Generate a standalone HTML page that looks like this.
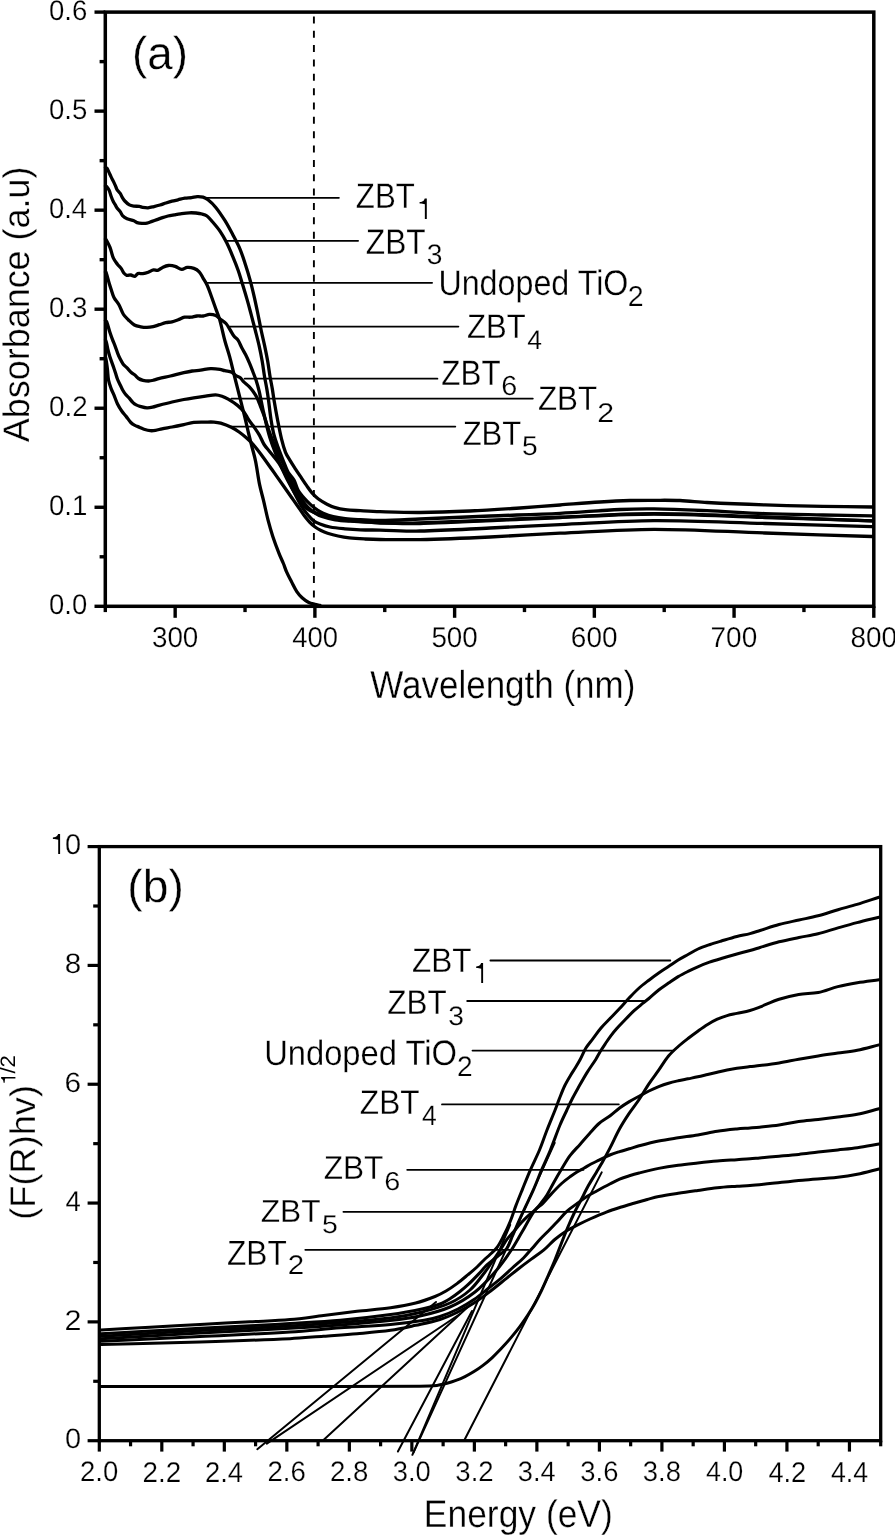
<!DOCTYPE html>
<html><head><meta charset="utf-8"><style>
html,body{margin:0;padding:0;background:#fff;}
svg{display:block;will-change:transform;} text{text-rendering:geometricPrecision;}
text{font-family:"Liberation Sans",sans-serif;fill:#000;stroke:#fff;stroke-width:0.45px;}
</style></head><body>
<svg width="895" height="1535" viewBox="0 0 895 1535" stroke="#000" fill="none">
<rect x="105.3" y="12.1" width="768.50" height="594.20" stroke-width="3.5" stroke-linejoin="miter"/>
<line x1="94.5" y1="606.3" x2="105.3" y2="606.3" stroke-width="3.4" stroke-linecap="butt" />
<line x1="94.5" y1="507.27" x2="105.3" y2="507.27" stroke-width="3.4" stroke-linecap="butt" />
<line x1="94.5" y1="408.23" x2="105.3" y2="408.23" stroke-width="3.4" stroke-linecap="butt" />
<line x1="94.5" y1="309.2" x2="105.3" y2="309.2" stroke-width="3.4" stroke-linecap="butt" />
<line x1="94.5" y1="210.17" x2="105.3" y2="210.17" stroke-width="3.4" stroke-linecap="butt" />
<line x1="94.5" y1="111.13" x2="105.3" y2="111.13" stroke-width="3.4" stroke-linecap="butt" />
<line x1="94.5" y1="12.1" x2="105.3" y2="12.1" stroke-width="3.4" stroke-linecap="butt" />
<line x1="99.6" y1="556.78" x2="105.3" y2="556.78" stroke-width="3.4" stroke-linecap="butt" />
<line x1="99.6" y1="457.75" x2="105.3" y2="457.75" stroke-width="3.4" stroke-linecap="butt" />
<line x1="99.6" y1="358.72" x2="105.3" y2="358.72" stroke-width="3.4" stroke-linecap="butt" />
<line x1="99.6" y1="259.68" x2="105.3" y2="259.68" stroke-width="3.4" stroke-linecap="butt" />
<line x1="99.6" y1="160.65" x2="105.3" y2="160.65" stroke-width="3.4" stroke-linecap="butt" />
<line x1="99.6" y1="61.62" x2="105.3" y2="61.62" stroke-width="3.4" stroke-linecap="butt" />
<line x1="175.16" y1="606.3" x2="175.16" y2="617.8" stroke-width="3.4" stroke-linecap="butt" />
<line x1="314.89" y1="606.3" x2="314.89" y2="617.8" stroke-width="3.4" stroke-linecap="butt" />
<line x1="454.62" y1="606.3" x2="454.62" y2="617.8" stroke-width="3.4" stroke-linecap="butt" />
<line x1="594.35" y1="606.3" x2="594.35" y2="617.8" stroke-width="3.4" stroke-linecap="butt" />
<line x1="734.07" y1="606.3" x2="734.07" y2="617.8" stroke-width="3.4" stroke-linecap="butt" />
<line x1="873.8" y1="606.3" x2="873.8" y2="617.8" stroke-width="3.4" stroke-linecap="butt" />
<line x1="105.3" y1="606.3" x2="105.3" y2="612.1" stroke-width="3.4" stroke-linecap="butt" />
<line x1="245.03" y1="606.3" x2="245.03" y2="612.1" stroke-width="3.4" stroke-linecap="butt" />
<line x1="384.75" y1="606.3" x2="384.75" y2="612.1" stroke-width="3.4" stroke-linecap="butt" />
<line x1="524.48" y1="606.3" x2="524.48" y2="612.1" stroke-width="3.4" stroke-linecap="butt" />
<line x1="664.21" y1="606.3" x2="664.21" y2="612.1" stroke-width="3.4" stroke-linecap="butt" />
<line x1="803.94" y1="606.3" x2="803.94" y2="612.1" stroke-width="3.4" stroke-linecap="butt" />
<line x1="313.9" y1="16.4" x2="313.9" y2="604" stroke-width="1.9" stroke-dasharray="7 7.35"/>
<text transform="translate(49 614.22) scale(0.9697 1)" font-size="28.31" style="stroke-width:0.23px">0.0</text>
<text transform="translate(48.99 515.18) scale(0.9771 1)" font-size="28.31" style="stroke-width:0.23px">0.1</text>
<text transform="translate(48.99 416.15) scale(0.9809 1)" font-size="28.31" style="stroke-width:0.23px">0.2</text>
<text transform="translate(49 317.12) scale(0.9734 1)" font-size="28.31" style="stroke-width:0.23px">0.3</text>
<text transform="translate(49.01 218.08) scale(0.9660 1)" font-size="28.31" style="stroke-width:0.23px">0.4</text>
<text transform="translate(49 119.05) scale(0.9734 1)" font-size="28.31" style="stroke-width:0.23px">0.5</text>
<text transform="translate(49 20.02) scale(0.9734 1)" font-size="28.31" style="stroke-width:0.23px">0.6</text>
<text transform="translate(151.95 647.11) scale(0.9675 1)" font-size="28.73" style="stroke-width:0.23px">300</text>
<text transform="translate(292.24 647.11) scale(0.9555 1)" font-size="28.73" style="stroke-width:0.23px">400</text>
<text transform="translate(431.41 647.11) scale(0.9675 1)" font-size="28.73" style="stroke-width:0.23px">500</text>
<text transform="translate(570.85 647.11) scale(0.9736 1)" font-size="28.73" style="stroke-width:0.23px">600</text>
<text transform="translate(710.57 647.11) scale(0.9736 1)" font-size="28.73" style="stroke-width:0.23px">700</text>
<text transform="translate(850.45 647.11) scale(0.9706 1)" font-size="28.73" style="stroke-width:0.23px">800</text>
<text transform="translate(370.33 697.8) scale(0.8983 1)" font-size="38.95" style="stroke-width:0.31px">Wavelength (nm)</text>
<text transform="translate(29.3 442.2) rotate(-90) scale(0.9738 1)" font-size="36.92" style="stroke-width:0.30px">Absorbance (a.u)</text>
<text transform="translate(131.95 68.77) scale(0.9894 1)" font-size="46.31" style="stroke-width:0.37px">(a)</text>
<line x1="206" y1="197.8" x2="338.9" y2="197.8" stroke-width="1.8" stroke-linecap="round" />
<line x1="226.6" y1="240.8" x2="358.1" y2="240.8" stroke-width="1.8" stroke-linecap="round" />
<line x1="206.3" y1="282.8" x2="432.1" y2="282.8" stroke-width="1.8" stroke-linecap="round" />
<line x1="229.7" y1="326.6" x2="458.4" y2="326.6" stroke-width="1.8" stroke-linecap="round" />
<line x1="244.6" y1="378.7" x2="437.4" y2="378.7" stroke-width="1.8" stroke-linecap="round" />
<line x1="231.3" y1="398.6" x2="532.8" y2="398.6" stroke-width="1.8" stroke-linecap="round" />
<line x1="231.3" y1="426.6" x2="455.3" y2="426.6" stroke-width="1.8" stroke-linecap="round" />
<text transform="translate(355.86 207.9) scale(0.8760 1)" font-size="35.61" style="stroke-width:0.28px">ZBT</text>
<path d="M424.85 198.4 L426.8 198.4 L426.8 218.9 L424.85 218.9 L424.85 204.34 C423.41 203.63 421.76 203.63 419.6 203.53 L419.6 201.99 C423.2 201.78 424.13 200.25 424.71 198.4 Z" fill="#000" stroke="none"/>
<text transform="translate(365.85 253.5) scale(0.8934 1)" font-size="35.47" style="stroke-width:0.28px">ZBT</text>
<text transform="translate(426.67 263.92) scale(0.9965 1)" font-size="28.31" style="stroke-width:0.23px">3</text>
<text transform="translate(438.38 294.6) scale(0.9057 1)" font-size="35.61" style="stroke-width:0.28px">Undoped TiO</text>
<text transform="translate(627.77 305.6) scale(0.9950 1)" font-size="28.71" style="stroke-width:0.23px">2</text>
<text transform="translate(467.07 338) scale(0.9069 1)" font-size="34.16" style="stroke-width:0.27px">ZBT</text>
<text transform="translate(527.37 348.7) scale(0.9897 1)" font-size="26.81" style="stroke-width:0.21px">4</text>
<text transform="translate(441.36 384.5) scale(0.8915 1)" font-size="35.17" style="stroke-width:0.28px">ZBT</text>
<text transform="translate(501.26 395.32) scale(1.0439 1)" font-size="27.61" style="stroke-width:0.22px">6</text>
<text transform="translate(537.96 410.2) scale(0.9165 1)" font-size="34.16" style="stroke-width:0.27px">ZBT</text>
<text transform="translate(597.28 421.8) scale(1.1174 1)" font-size="27.14" style="stroke-width:0.22px">2</text>
<text transform="translate(462.67 445.3) scale(0.9069 1)" font-size="34.16" style="stroke-width:0.27px">ZBT</text>
<text transform="translate(522.07 455.03) scale(1.0393 1)" font-size="27.14" style="stroke-width:0.22px">5</text>
<path d="M105.5 167.5 C106 167.77 106.67 167.86 107 168.3 C107.77 169.33 108.22 170.69 108.8 171.9 C109.59 173.56 110.3 175.25 111.1 176.9 C111.83 178.42 112.67 179.88 113.4 181.4 C114.2 183.05 114.96 184.72 115.7 186.4 C116.16 187.45 116.38 188.64 117 189.6 C117.88 190.98 119.27 192.04 120.2 193.4 C121.04 194.64 121.52 196.11 122.3 197.4 C123.06 198.65 123.8 199.95 124.8 201 C126.17 202.45 127.69 203.94 129.4 204.9 C130.72 205.64 132.37 205.87 133.9 206.1 C135.71 206.37 137.59 206.15 139.4 206.4 C140.46 206.55 141.44 207.13 142.5 207.3 C144.31 207.59 146.18 207.91 148 207.8 C150.01 207.68 152.01 207.06 154 206.6 C156.01 206.13 158.02 205.59 160 205 C162.02 204.39 163.99 203.64 166 203 C167.99 202.37 169.98 201.74 172 201.2 C173.98 200.67 176 200.27 178 199.8 C180.3 199.27 182.57 198.58 184.9 198.2 C187.11 197.84 189.38 197.89 191.6 197.6 C193.48 197.36 195.32 196.67 197.2 196.6 C199.12 196.53 201.17 196.66 203 197.2 C204.77 197.72 206.54 198.64 208 199.8 C210.74 201.98 213.38 204.47 215.6 207.2 C219.05 211.44 222.1 216.06 225 220.7 C227.83 225.22 230.3 229.98 232.8 234.7 C235.26 239.35 237.85 243.96 239.9 248.8 C242.05 253.9 243.68 259.23 245.4 264.5 C247.08 269.66 248.66 274.86 250.1 280.1 C251.53 285.3 252.78 290.55 254 295.8 C255.25 301.18 256.38 306.59 257.5 312 C258.74 317.99 259.84 324.01 261.1 330 C262.2 335.21 263.5 340.39 264.6 345.6 C265.7 350.82 266.78 356.05 267.7 361.3 C268.61 366.48 269.23 371.71 270.1 376.9 C270.8 381.08 271.69 385.22 272.4 389.4 C272.99 392.92 273.4 396.48 274 400 C275.1 406.51 276.25 413.02 277.5 419.5 C278.75 425.98 279.94 432.49 281.5 438.9 C282.6 443.42 283.8 447.99 285.5 452.3 C286.63 455.16 288.41 457.75 290 460.4 C291.81 463.42 293.77 466.35 295.7 469.3 C297.47 472.02 299.29 474.71 301.1 477.4 C302.89 480.07 304.65 482.77 306.5 485.4 C308.22 487.84 309.86 490.35 311.8 492.6 C313.72 494.82 315.77 497.02 318.1 498.8 C320.84 500.89 323.93 502.61 327 504.2 C329.66 505.58 332.44 506.84 335.3 507.7 C338.54 508.67 341.93 509.3 345.3 509.7 C350.3 510.3 355.36 510.41 360.4 510.7 C366.93 511.08 373.46 511.5 380 511.7 C393.33 512.1 406.67 512.6 420 512.5 C436.67 512.37 453.34 511.75 470 511 C486.68 510.25 503.34 509.11 520 508 C533.34 507.11 546.67 506 560 505 C573.33 504 586.66 502.86 600 502 C609.99 501.36 619.99 500.81 630 500.5 C637.99 500.25 646 500.3 654 500.3 C662.67 500.3 671.35 500.14 680 500.5 C689.01 500.87 697.99 502.03 707 502.5 C726.32 503.5 745.66 504.27 765 504.9 C784.33 505.53 803.66 505.92 823 506.3 C839.33 506.62 855.67 506.77 872 507" fill="none" stroke-width="3.3" stroke-linejoin="round" stroke-linecap="round"/>
<path d="M105.5 186 C106 186.33 106.62 186.54 107 187 C107.89 188.08 108.73 189.31 109.3 190.6 C110.09 192.38 110.43 194.36 111.1 196.2 C111.79 198.09 112.52 199.99 113.4 201.8 C114.05 203.13 114.95 204.32 115.7 205.6 C116.22 206.49 116.59 207.48 117.2 208.3 C118.09 209.48 119.33 210.4 120.2 211.6 C121.1 212.84 121.46 214.52 122.5 215.6 C123.76 216.92 125.42 218.03 127.1 218.8 C129.22 219.77 131.71 219.96 133.9 220.8 C135.01 221.23 135.88 222.24 137 222.6 C138.58 223.11 140.32 223.3 142 223.4 C143.66 223.5 145.38 223.52 147 223.2 C148.72 222.86 150.33 222 152 221.4 C153.67 220.8 155.33 220.2 157 219.6 C158.83 218.94 160.65 218.21 162.5 217.6 C164.31 217.01 166.14 216.44 168 216 C170.11 215.5 172.26 215.18 174.4 214.8 C176.4 214.45 178.39 214.07 180.4 213.8 C183.39 213.4 186.39 212.95 189.4 212.8 C191.59 212.69 193.81 212.79 196 213 C198.01 213.19 200.06 213.47 202 214 C203.72 214.47 205.59 214.95 207 216 C209.09 217.55 210.77 219.77 212.5 221.8 C215.21 224.97 217.96 228.15 220.3 231.6 C222.66 235.09 224.71 238.83 226.6 242.6 C228.88 247.16 230.84 251.89 232.8 256.6 C234.74 261.26 236.62 265.95 238.3 270.7 C239.75 274.81 240.93 279.03 242.2 283.2 C243.79 288.43 245.39 293.65 246.9 298.9 C248.15 303.25 249.33 307.62 250.5 312 C252.1 317.99 253.66 323.99 255.2 330 C256.53 335.19 257.93 340.37 259.1 345.6 C260.26 350.8 261.28 356.05 262.2 361.3 C263.11 366.48 263.73 371.71 264.6 376.9 C265.3 381.08 266.19 385.22 266.9 389.4 C267.49 392.92 268.02 396.46 268.5 400 C269.38 406.49 269.98 413.03 271 419.5 C271.82 424.7 272.7 429.91 274 435 C275.04 439.08 276.57 443.03 278 447 C279.57 451.37 281.28 455.69 283 460 C284.61 464.02 285.93 468.23 288 472 C289.59 474.9 292.4 477.11 294 480 C295.73 483.11 296.27 486.89 298 490 C299.63 492.93 301.9 495.54 304.1 498.1 C305.94 500.24 308.03 502.18 310.1 504.1 C312.03 505.88 313.95 507.71 316.1 509.2 C318.32 510.74 320.72 512.11 323.2 513.2 C326.42 514.61 329.79 515.85 333.2 516.7 C337.15 517.68 341.24 518.25 345.3 518.7 C350.31 519.25 355.36 519.44 360.4 519.7 C366.93 520.04 373.47 520.58 380 520.5 C393.33 520.34 406.67 519.55 420 519 C443.34 518.05 466.66 516.95 490 516 C513.33 515.05 536.68 514.47 560 513.3 C580.01 512.3 599.99 510.44 620 509.5 C631.32 508.97 642.67 508.74 654 508.9 C671.67 509.14 689.34 509.95 707 510.7 C726.34 511.52 745.66 512.88 765 513.6 C784.32 514.32 803.67 514.58 823 515 C839.33 515.35 855.67 515.6 872 515.9" fill="none" stroke-width="3.3" stroke-linejoin="round" stroke-linecap="round"/>
<path d="M105.5 239 C105.67 239.13 105.9 239.21 106 239.4 C107.4 242.01 108.91 244.63 110 247.4 C111.38 250.9 111.89 254.78 113.4 258.2 C114.36 260.38 115.95 262.29 117.4 264.2 C118.65 265.85 120.28 267.23 121.5 268.9 C122.42 270.16 122.82 271.82 123.8 273 C124.59 273.95 125.67 274.98 126.8 275.3 C128 275.64 129.5 274.84 130.8 275 C132.2 275.17 133.69 276.54 134.9 276.3 C136.02 276.08 136.63 273.99 137.8 273.6 C139.3 273.09 141.23 273.82 142.9 273.6 C144.73 273.36 146.55 272.82 148.3 272.2 C150.12 271.55 151.77 270.15 153.6 269.8 C154.9 269.55 156.44 270.75 157.7 270.4 C159.58 269.88 161.14 268.05 163 267.2 C164.7 266.42 166.56 265.64 168.4 265.5 C170.59 265.34 172.97 265.68 175.1 266.3 C177.43 266.98 179.53 269.19 181.8 269.4 C183.57 269.56 185.35 267.55 187.2 267.4 C189.38 267.22 191.83 267.64 193.9 268.4 C195.83 269.11 197.8 270.31 199.2 271.8 C200.9 273.61 201.91 276.11 203.2 278.3 C204.61 280.68 206.18 282.99 207.3 285.5 C209.01 289.32 210.26 293.36 211.7 297.3 C213.03 300.96 214.29 304.64 215.6 308.3 C216.92 312 218.52 315.62 219.6 319.4 C221.66 326.62 223.05 334.04 225 341.3 C226.41 346.54 228.26 351.66 229.7 356.9 C231.13 362.1 232.3 367.37 233.6 372.6 C234.9 377.8 236.19 383 237.5 388.2 C238.82 393.44 240.18 398.66 241.5 403.9 C242.81 409.1 244.15 414.29 245.4 419.5 C246.48 423.99 247.42 428.51 248.5 433 C249.62 437.68 250.83 442.33 252 447 C253.2 451.77 254.63 456.48 255.6 461.3 C257.16 469.05 258.03 476.95 259.6 484.7 C260.67 489.98 262.25 495.16 263.5 500.4 C265.11 507.16 266.46 513.98 268.2 520.7 C269.56 525.98 271.09 531.23 272.8 536.4 C274.72 542.19 276.88 547.92 279.1 553.6 C280.41 556.95 282.04 560.17 283.4 563.5 C284.57 566.37 285.45 569.37 286.7 572.2 C288.11 575.4 289.78 578.49 291.4 581.6 C293.15 584.96 294.72 588.46 296.8 591.6 C298.28 593.83 300.12 595.9 302.1 597.7 C304.12 599.53 306.39 601.26 308.8 602.5 C310.66 603.46 312.85 603.77 314.9 604.3 C316.58 604.74 318.3 605.03 320 605.4" fill="none" stroke-width="3.3" stroke-linejoin="round" stroke-linecap="round"/>
<path d="M105.5 272 C105.7 272.13 106.03 272.17 106.1 272.4 C107.33 276.17 108.25 280.15 109.4 284 C110.05 286.18 110.77 288.34 111.5 290.5 C112.33 292.94 112.92 295.53 114.1 297.8 C115.35 300.2 117.47 302.13 118.8 304.5 C120.6 307.7 121.58 311.4 123.5 314.5 C124.72 316.47 126.52 318.08 128.2 319.7 C130.15 321.58 132.09 323.69 134.4 325 C136.26 326.05 138.56 326.39 140.7 326.8 C142.73 327.19 144.84 327.43 146.9 327.4 C149 327.37 151.14 327.05 153.2 326.6 C155.31 326.15 157.34 325.34 159.4 324.7 C161.5 324.04 163.56 323.19 165.7 322.7 C167.76 322.23 169.95 322.29 172 321.8 C174.11 321.29 176.15 320.45 178.2 319.7 C180.32 318.92 182.32 317.64 184.5 317.2 C186.49 316.8 188.65 317.4 190.7 317.2 C192.82 317 194.88 316.2 197 316 C199.05 315.8 201.17 316.26 203.2 316 C205.33 315.73 207.39 314.47 209.5 314.4 C211.59 314.33 213.9 314.76 215.8 315.6 C217.53 316.36 218.86 318.01 220.4 319.2 C222.26 320.64 224.44 321.78 226 323.5 C227.71 325.38 228.82 327.82 230.2 330 C231.52 332.09 232.61 334.35 234.1 336.3 C235.21 337.75 236.99 338.69 238 340.2 C239.59 342.59 240.55 345.43 241.9 348 C243.15 350.36 244.61 352.61 245.8 355 C247.21 357.81 248.47 360.7 249.7 363.6 C250.8 366.2 251.79 368.86 252.8 371.5 C253.89 374.36 255.06 377.19 256 380.1 C257.16 383.69 258.18 387.34 259.1 391 C259.85 393.97 260.37 397 261 400 C261.84 404 262.62 408.01 263.5 412 C264.46 416.34 265.42 420.69 266.5 425 C267.59 429.35 268.65 433.72 270 438 C271.49 442.72 273.19 447.39 275 452 C276.86 456.72 278.92 461.37 281 466 C283.26 471.03 285.47 476.1 288 481 C290.47 485.77 293.15 490.45 296 495 C298.15 498.45 300.3 502.01 303 505 C304.97 507.18 307.43 509.08 310 510.5 C313.16 512.25 316.74 513.34 320.2 514.5 C325.17 516.17 330.18 517.94 335.3 519 C340.21 520.01 345.29 520.24 350.3 520.7 C356.99 521.31 363.7 521.68 370.4 522.2 C373.6 522.45 376.79 522.95 380 523 C393.32 523.21 406.68 523.43 420 523 C466.68 521.5 513.33 519.07 560 517.2 C591.33 515.94 622.66 513.63 654 513.6 C691 513.56 728 515.78 765 517 C800.67 518.18 836.33 519.53 872 520.8" fill="none" stroke-width="3.3" stroke-linejoin="round" stroke-linecap="round"/>
<path d="M105.5 320.5 C105.9 320.97 106.49 321.33 106.7 321.9 C107.92 325.16 108.7 328.65 109.8 332 C110.64 334.55 111.55 337.09 112.5 339.6 C113.35 341.85 114.35 344.05 115.2 346.3 C116.15 348.81 116.92 351.4 117.9 353.9 C118.55 355.57 119.28 357.21 120.1 358.8 C121.05 360.64 121.96 362.56 123.2 364.2 C124.2 365.52 125.63 366.5 126.8 367.7 C128.33 369.27 129.68 371.04 131.3 372.5 C132.38 373.47 133.78 374.07 134.9 375 C136.18 376.07 137.13 377.6 138.5 378.5 C139.83 379.37 141.44 379.91 143 380.3 C144.81 380.75 146.74 381.02 148.6 381 C150.24 380.98 151.89 380.58 153.5 380.2 C155.26 379.78 156.94 379.04 158.7 378.6 C162.57 377.64 166.51 376.91 170.4 376 C174.88 374.95 179.32 373.73 183.8 372.7 C186.58 372.06 189.38 371.42 192.2 371 C194.98 370.59 197.81 370.56 200.6 370.2 C203.95 369.76 207.25 368.76 210.6 368.6 C213.72 368.46 216.91 368.84 220 369.3 C221.61 369.54 223.11 370.31 224.7 370.7 C227.01 371.27 229.57 371.28 231.7 372.2 C233.2 372.85 234.19 374.5 235.6 375.4 C237.06 376.33 238.96 376.65 240.3 377.7 C241.59 378.71 242.31 380.41 243.5 381.6 C245.18 383.28 247.23 384.61 248.9 386.3 C250.33 387.74 251.61 389.35 252.8 391 C254.25 393.02 255.67 395.1 256.8 397.3 C258.07 399.76 258.98 402.42 260 405 C261.38 408.48 262.77 411.96 264 415.5 C265.44 419.63 266.57 423.87 268 428 C269.4 432.03 270.91 436.03 272.5 440 C274.25 444.37 276.07 448.71 278 453 C279.9 457.21 282 461.33 284 465.5 C286 469.67 287.97 473.85 290 478 C291.97 482.02 293.86 486.08 296 490 C297.86 493.41 299.81 496.8 302 500 C303.81 502.63 305.75 505.25 308 507.5 C310.08 509.58 312.52 511.4 315 513 C317.18 514.4 319.54 515.68 322 516.5 C326.31 517.94 330.81 519.05 335.3 519.8 C340.24 520.62 345.29 520.87 350.3 521.2 C360.19 521.84 370.09 522.37 380 522.7 C393.33 523.14 406.67 523.88 420 523.5 C466.67 522.15 513.33 519.39 560 517.5 C591.33 516.23 622.66 514 654 514 C691 514 728 516.35 765 517.5 C800.67 518.61 836.33 519.7 872 520.8" fill="none" stroke-width="3.3" stroke-linejoin="round" stroke-linecap="round"/>
<path d="M105.5 340 C105.83 340.93 106.26 341.84 106.5 342.8 C107.09 345.17 107.43 347.62 108 350 C108.53 352.18 109.11 354.36 109.8 356.5 C110.78 359.56 111.95 362.56 113 365.6 C113.85 368.06 114.68 370.53 115.5 373 C116.22 375.16 116.76 377.39 117.6 379.5 C118.42 381.56 119.54 383.5 120.5 385.5 C121.27 387.1 121.93 388.76 122.8 390.3 C123.59 391.69 124.49 393.06 125.5 394.3 C126.55 395.59 127.88 396.66 129 397.9 C130.38 399.43 131.54 401.18 133 402.6 C133.94 403.51 135.05 404.29 136.2 404.9 C137.38 405.53 138.7 405.95 140 406.3 C142.27 406.91 144.58 407.63 146.9 407.8 C148.75 407.93 150.67 407.57 152.5 407.2 C154.6 406.77 156.62 405.95 158.7 405.4 C163.15 404.22 167.61 403.05 172.1 402 C175.98 401.09 179.89 400.26 183.8 399.5 C187.12 398.86 190.46 398.32 193.8 397.8 C197.73 397.19 201.66 396.64 205.6 396.1 C208.93 395.64 212.29 394.78 215.6 394.8 C217.75 394.81 219.95 395.49 222 396.2 C224.15 396.95 226.23 398.03 228.2 399.2 C231.4 401.1 234.61 403.08 237.5 405.4 C239.81 407.25 241.99 409.38 243.8 411.7 C245.65 414.08 246.82 416.98 248.5 419.5 C249.95 421.68 251.7 423.65 253.2 425.8 C255.33 428.85 257.53 431.89 259.4 435.1 C261.16 438.12 262.25 441.55 264.1 444.5 C265.78 447.18 268.03 449.5 270 452 C272.93 455.7 276.21 459.17 278.8 463.1 C282.11 468.1 284.91 473.48 287.7 478.8 C290.31 483.78 292.46 488.99 295 494 C297.23 498.39 299.42 502.83 302 507 C303.75 509.83 305.86 512.45 308 515 C309.69 517.02 311.42 519.14 313.5 520.7 C315.42 522.14 317.74 523.14 320 524 C323.24 525.24 326.59 526.35 330 527 C334.93 527.95 339.99 528.34 345 528.8 C350.12 529.27 355.26 529.61 360.4 529.8 C366.93 530.04 373.47 529.97 380 530.1 C393.33 530.37 406.67 531.25 420 531 C443.34 530.55 466.67 529.07 490 528 C513.34 526.93 536.66 525.64 560 524.6 C591.33 523.21 622.66 520.87 654 520.7 C690.99 520.5 728 522.5 765 523.5 C800.67 524.47 836.33 525.57 872 526.6" fill="none" stroke-width="3.3" stroke-linejoin="round" stroke-linecap="round"/>
<path d="M105.5 357 C105.83 358.77 106.23 360.52 106.5 362.3 C106.89 364.86 107.21 367.43 107.5 370 C107.88 373.33 107.86 376.73 108.5 380 C109.09 383.03 110.15 385.99 111.2 388.9 C111.92 390.89 112.98 392.75 113.8 394.7 C115.05 397.68 115.99 400.8 117.4 403.7 C118.69 406.34 120.23 408.88 121.9 411.3 C123.2 413.18 124.87 414.8 126.3 416.6 C127.84 418.54 129.11 420.73 130.8 422.5 C131.81 423.56 133.11 424.4 134.4 425.1 C136.11 426.03 138 426.63 139.8 427.4 C141.2 428 142.55 428.74 144 429.2 C146.05 429.84 148.18 430.48 150.3 430.7 C152.01 430.88 153.79 430.68 155.5 430.4 C157.69 430.04 159.82 429.25 162 428.8 C165.35 428.11 168.74 427.65 172.1 427 C176.01 426.25 179.91 425.43 183.8 424.6 C187.14 423.89 190.42 422.79 193.8 422.4 C197.69 421.95 201.67 422.16 205.6 422.1 C208.4 422.06 211.22 421.9 214 422.1 C216.25 422.26 218.54 422.55 220.7 423.2 C224.31 424.29 227.89 425.67 231.3 427.3 C234.03 428.6 236.63 430.25 239.1 432 C241.83 433.92 244.4 436.09 246.9 438.3 C249.1 440.25 251.26 442.29 253.2 444.5 C255.92 447.59 258.43 450.89 260.9 454.2 C264.73 459.33 268.39 464.59 272.1 469.8 C275.82 475.02 279.5 480.26 283.2 485.5 C286.14 489.66 289.07 493.83 292 498 C294.34 501.33 296.67 504.67 299 508 C301.24 511.2 303.34 514.5 305.7 517.6 C307.01 519.33 308.47 520.97 310 522.5 C311.6 524.1 313.27 525.67 315.1 527 C316.94 528.34 318.96 529.49 321 530.5 C323.12 531.55 325.34 532.47 327.6 533.2 C331.01 534.3 334.49 535.25 338 536 C341.79 536.81 345.64 537.47 349.5 537.9 C354.64 538.47 359.83 538.73 365 539 C370 539.26 375 539.45 380 539.5 C393.33 539.65 406.67 539.9 420 539.6 C443.34 539.07 466.68 538.07 490 537 C513.34 535.93 536.66 534.3 560 533.2 C591.33 531.73 622.66 529.33 654 529.3 C690.99 529.26 728 531.78 765 533 C800.67 534.18 836.33 535.33 872 536.5" fill="none" stroke-width="3.3" stroke-linejoin="round" stroke-linecap="round"/>
<rect x="99.3" y="846.6" width="781.40" height="594.10" stroke-width="3.3" stroke-linejoin="miter"/>
<line x1="87.6" y1="1440.7" x2="99.3" y2="1440.7" stroke-width="3.2" stroke-linecap="butt" />
<line x1="87.6" y1="1321.88" x2="99.3" y2="1321.88" stroke-width="3.2" stroke-linecap="butt" />
<line x1="87.6" y1="1203.06" x2="99.3" y2="1203.06" stroke-width="3.2" stroke-linecap="butt" />
<line x1="87.6" y1="1084.24" x2="99.3" y2="1084.24" stroke-width="3.2" stroke-linecap="butt" />
<line x1="87.6" y1="965.42" x2="99.3" y2="965.42" stroke-width="3.2" stroke-linecap="butt" />
<line x1="87.6" y1="846.6" x2="99.3" y2="846.6" stroke-width="3.2" stroke-linecap="butt" />
<line x1="93.2" y1="1381.29" x2="99.3" y2="1381.29" stroke-width="3.2" stroke-linecap="butt" />
<line x1="93.2" y1="1262.47" x2="99.3" y2="1262.47" stroke-width="3.2" stroke-linecap="butt" />
<line x1="93.2" y1="1143.65" x2="99.3" y2="1143.65" stroke-width="3.2" stroke-linecap="butt" />
<line x1="93.2" y1="1024.83" x2="99.3" y2="1024.83" stroke-width="3.2" stroke-linecap="butt" />
<line x1="93.2" y1="906.01" x2="99.3" y2="906.01" stroke-width="3.2" stroke-linecap="butt" />
<line x1="99.3" y1="1440.7" x2="99.3" y2="1451.6" stroke-width="3.2" stroke-linecap="butt" />
<line x1="161.81" y1="1440.7" x2="161.81" y2="1451.6" stroke-width="3.2" stroke-linecap="butt" />
<line x1="224.32" y1="1440.7" x2="224.32" y2="1451.6" stroke-width="3.2" stroke-linecap="butt" />
<line x1="286.84" y1="1440.7" x2="286.84" y2="1451.6" stroke-width="3.2" stroke-linecap="butt" />
<line x1="349.35" y1="1440.7" x2="349.35" y2="1451.6" stroke-width="3.2" stroke-linecap="butt" />
<line x1="411.86" y1="1440.7" x2="411.86" y2="1451.6" stroke-width="3.2" stroke-linecap="butt" />
<line x1="474.37" y1="1440.7" x2="474.37" y2="1451.6" stroke-width="3.2" stroke-linecap="butt" />
<line x1="536.88" y1="1440.7" x2="536.88" y2="1451.6" stroke-width="3.2" stroke-linecap="butt" />
<line x1="599.4" y1="1440.7" x2="599.4" y2="1451.6" stroke-width="3.2" stroke-linecap="butt" />
<line x1="661.91" y1="1440.7" x2="661.91" y2="1451.6" stroke-width="3.2" stroke-linecap="butt" />
<line x1="724.42" y1="1440.7" x2="724.42" y2="1451.6" stroke-width="3.2" stroke-linecap="butt" />
<line x1="786.93" y1="1440.7" x2="786.93" y2="1451.6" stroke-width="3.2" stroke-linecap="butt" />
<line x1="849.44" y1="1440.7" x2="849.44" y2="1451.6" stroke-width="3.2" stroke-linecap="butt" />
<line x1="130.56" y1="1440.7" x2="130.56" y2="1446.3" stroke-width="3.2" stroke-linecap="butt" />
<line x1="193.07" y1="1440.7" x2="193.07" y2="1446.3" stroke-width="3.2" stroke-linecap="butt" />
<line x1="255.58" y1="1440.7" x2="255.58" y2="1446.3" stroke-width="3.2" stroke-linecap="butt" />
<line x1="318.09" y1="1440.7" x2="318.09" y2="1446.3" stroke-width="3.2" stroke-linecap="butt" />
<line x1="380.6" y1="1440.7" x2="380.6" y2="1446.3" stroke-width="3.2" stroke-linecap="butt" />
<line x1="443.12" y1="1440.7" x2="443.12" y2="1446.3" stroke-width="3.2" stroke-linecap="butt" />
<line x1="505.63" y1="1440.7" x2="505.63" y2="1446.3" stroke-width="3.2" stroke-linecap="butt" />
<line x1="568.14" y1="1440.7" x2="568.14" y2="1446.3" stroke-width="3.2" stroke-linecap="butt" />
<line x1="630.65" y1="1440.7" x2="630.65" y2="1446.3" stroke-width="3.2" stroke-linecap="butt" />
<line x1="693.16" y1="1440.7" x2="693.16" y2="1446.3" stroke-width="3.2" stroke-linecap="butt" />
<line x1="755.68" y1="1440.7" x2="755.68" y2="1446.3" stroke-width="3.2" stroke-linecap="butt" />
<line x1="818.19" y1="1440.7" x2="818.19" y2="1446.3" stroke-width="3.2" stroke-linecap="butt" />
<line x1="880.7" y1="1440.7" x2="880.7" y2="1446.3" stroke-width="3.2" stroke-linecap="butt" />
<text transform="translate(64.94 1448.42) scale(1.0332 1)" font-size="28.03" style="stroke-width:0.22px">0</text>
<text transform="translate(64.57 1329.88) scale(1.0746 1)" font-size="28.43" style="stroke-width:0.23px">2</text>
<text transform="translate(65.55 1211.06) scale(0.9544 1)" font-size="28.84" style="stroke-width:0.23px">4</text>
<text transform="translate(64.61 1091.96) scale(1.0665 1)" font-size="28.03" style="stroke-width:0.22px">6</text>
<text transform="translate(64.77 973.14) scale(1.0552 1)" font-size="28.03" style="stroke-width:0.22px">8</text>
<path d="M58.2 833.9 L60.1 833.9 L60.1 853.9 L58.2 853.9 L58.2 839.7 C56.76 839 55.06 839 52.9 838.9 L52.9 837.4 C56.5 837.2 57.48 835.7 58.06 833.9 Z" fill="#000" stroke="none"/>
<text transform="translate(64.94 853.91) scale(1.0128 1)" font-size="28.59" style="stroke-width:0.23px">0</text>
<text transform="translate(79.97 1481.22) scale(0.9766 1)" font-size="28.17" style="stroke-width:0.23px">2.0</text>
<text transform="translate(142.47 1481.5) scale(0.9740 1)" font-size="28.57" style="stroke-width:0.23px">2.2</text>
<text transform="translate(205 1481.5) scale(0.9592 1)" font-size="28.57" style="stroke-width:0.23px">2.4</text>
<text transform="translate(267.51 1481.22) scale(0.9803 1)" font-size="28.17" style="stroke-width:0.23px">2.6</text>
<text transform="translate(330.02 1481.22) scale(0.9803 1)" font-size="28.17" style="stroke-width:0.23px">2.8</text>
<text transform="translate(392.82 1481.22) scale(0.9692 1)" font-size="28.17" style="stroke-width:0.23px">3.0</text>
<text transform="translate(455.32 1481.22) scale(0.9803 1)" font-size="28.17" style="stroke-width:0.23px">3.2</text>
<text transform="translate(517.85 1481.22) scale(0.9655 1)" font-size="28.17" style="stroke-width:0.23px">3.4</text>
<text transform="translate(580.35 1481.22) scale(0.9729 1)" font-size="28.17" style="stroke-width:0.23px">3.6</text>
<text transform="translate(642.86 1481.22) scale(0.9729 1)" font-size="28.17" style="stroke-width:0.23px">3.8</text>
<text transform="translate(705.93 1481.22) scale(0.9546 1)" font-size="28.17" style="stroke-width:0.23px">4.0</text>
<text transform="translate(768.44 1481.5) scale(0.9519 1)" font-size="28.57" style="stroke-width:0.23px">4.2</text>
<text transform="translate(830.96 1481.5) scale(0.9243 1)" font-size="28.99" style="stroke-width:0.23px">4.4</text>
<text transform="translate(423.87 1527.2) scale(0.9230 1)" font-size="38.37" style="stroke-width:0.31px">Energy (eV)</text>
<text transform="translate(34.7 1219.77) rotate(-90) scale(1.0172 1)" font-size="35.61" style="stroke-width:0.28px">(F(R)hv)</text>
<path d="M101 1330 C117.33 1329.1 133.67 1328.21 150 1327.3 C166.67 1326.37 183.33 1325.42 200 1324.5 C216.67 1323.58 233.33 1322.71 250 1321.8 C263.33 1321.07 276.7 1320.74 290 1319.6 C301.2 1318.64 312.34 1316.88 323.5 1315.5 C334.67 1314.12 345.82 1312.6 357 1311.3 C368.19 1310 379.46 1309.28 390.6 1307.7 C399.02 1306.51 407.47 1305.08 415.7 1303 C422.27 1301.34 428.7 1298.99 435 1296.5 C438.8 1294.99 442.47 1293.07 446 1291 C449.8 1288.77 453.45 1286.23 457 1283.6 C460.79 1280.79 464.37 1277.71 468 1274.7 C471.04 1272.18 474.09 1269.67 477 1267 C479.43 1264.77 481.62 1262.29 484 1260 C485.96 1258.12 488.04 1256.38 490 1254.5 C492.38 1252.21 495.07 1250.14 497 1247.5 C499.57 1243.97 501.51 1239.92 503.5 1236 C505.91 1231.26 508.19 1226.42 510.2 1221.5 C512.29 1216.39 513.84 1211.06 515.8 1205.9 C517.94 1200.26 520.24 1194.69 522.5 1189.1 C525.07 1182.75 527.57 1176.38 530.3 1170.1 C533.24 1163.34 536.67 1156.8 539.5 1150 C542.24 1143.43 544.41 1136.63 547 1130 C549.61 1123.3 552.46 1116.69 555.1 1110 C556.49 1106.49 557.71 1102.91 559.1 1099.4 C560.88 1094.91 562.54 1090.36 564.6 1086 C566.24 1082.53 568.25 1079.21 570.2 1075.9 C571.98 1072.88 573.99 1070 575.8 1067 C577.35 1064.43 578.89 1061.85 580.3 1059.2 C582.26 1055.52 583.73 1051.55 585.9 1048 C587.83 1044.85 590.36 1042.06 592.6 1039.1 C595.4 1035.4 598.01 1031.54 601 1028 C603.81 1024.67 606.99 1021.66 610 1018.5 C613.19 1015.16 616.45 1011.88 619.6 1008.5 C622.88 1004.98 625.98 1001.29 629.3 997.8 C632.48 994.45 635.67 991.08 639.1 988 C642.2 985.21 645.59 982.74 648.9 980.2 C652.12 977.74 655.38 975.32 658.7 973 C661.91 970.75 665.24 968.67 668.5 966.5 C671.74 964.34 674.89 962.04 678.2 960 C681.39 958.04 684.73 956.32 688 954.5 C691.33 952.65 694.55 950.57 698 949 C701.88 947.24 705.96 945.89 710 944.5 C713.73 943.22 717.52 942.12 721.3 941 C726.49 939.46 731.66 937.85 736.9 936.5 C741.23 935.38 745.67 934.72 750 933.6 C753.37 932.72 756.67 931.54 760 930.5 C766.34 928.51 772.59 926.23 779 924.5 C785.59 922.73 792.33 921.49 799 920 C805.33 918.59 811.73 917.45 818 915.8 C824.73 914.02 831.31 911.66 838 909.7 C844.31 907.86 850.71 906.32 857 904.4 C864.38 902.15 871.67 899.6 879 897.2" fill="none" stroke-width="3.0" stroke-linejoin="round" stroke-linecap="round"/>
<path d="M101 1333.8 C117.33 1332.87 133.67 1331.91 150 1331 C166.67 1330.07 183.33 1329.17 200 1328.3 C216.66 1327.43 233.34 1326.67 250 1325.8 C263.34 1325.1 276.67 1324.41 290 1323.6 C306.77 1322.58 323.57 1321.8 340.3 1320.3 C357.1 1318.8 373.9 1316.95 390.6 1314.6 C401.83 1313.02 413.01 1310.88 424.1 1308.5 C429.48 1307.35 434.9 1305.99 440 1304 C443.87 1302.49 447.47 1300.21 451 1298 C454.13 1296.04 457.09 1293.78 460 1291.5 C462.75 1289.35 465.45 1287.1 468 1284.7 C471.79 1281.13 475.41 1277.37 479 1273.6 C481.41 1271.07 483.56 1268.29 486 1265.8 C487.22 1264.55 488.64 1263.51 490 1262.4 C492.64 1260.24 495.38 1258.19 498 1256 C501.01 1253.49 504.65 1251.4 506.9 1248.3 C509.48 1244.74 510.68 1240.12 512.5 1236 C514.78 1230.82 516.9 1225.57 519.2 1220.4 C521.37 1215.54 523.66 1210.73 525.9 1205.9 C528.5 1200.3 531.23 1194.76 533.7 1189.1 C536.43 1182.83 538.81 1176.4 541.5 1170.1 C544.38 1163.36 547.62 1156.78 550.4 1150 C553.79 1141.74 556.6 1133.25 560 1125 C562.1 1119.91 564.57 1114.98 566.9 1110 C568.73 1106.08 570.54 1102.15 572.5 1098.3 C574.24 1094.89 576.12 1091.54 578 1088.2 C580.95 1082.97 583.85 1077.71 587 1072.6 C589.82 1068.04 593.04 1063.73 595.9 1059.2 C597.41 1056.8 598.62 1054.22 600.1 1051.8 C601.82 1048.99 603.67 1046.24 605.5 1043.5 C607.23 1040.91 608.92 1038.28 610.8 1035.8 C612.76 1033.22 614.86 1030.73 617 1028.3 C619.06 1025.97 621.23 1023.73 623.4 1021.5 C626.93 1017.87 630.4 1014.16 634.1 1010.7 C636.93 1008.06 640.01 1005.67 643 1003.2 C644.94 1001.6 646.98 1000.12 648.9 998.5 C652.21 995.72 655.3 992.67 658.7 990 C661.84 987.53 665.21 985.36 668.5 983.1 C671.71 980.9 674.87 978.6 678.2 976.6 C681.37 974.7 684.69 973.05 688 971.4 C691.23 969.79 694.48 968.22 697.8 966.8 C701.65 965.15 705.55 963.59 709.5 962.2 C713.38 960.83 717.35 959.68 721.3 958.5 C726.48 956.95 731.69 955.45 736.9 954 C741.25 952.79 745.65 951.72 750 950.5 C753.35 949.56 756.67 948.5 760 947.5 C766.33 945.6 772.6 943.44 779 941.8 C785.6 940.11 792.32 938.87 799 937.5 C805.32 936.2 811.74 935.34 818 933.8 C824.74 932.14 831.32 929.82 838 927.9 C844.32 926.09 850.64 924.26 857 922.6 C864.31 920.69 871.67 919 879 917.2" fill="none" stroke-width="3.0" stroke-linejoin="round" stroke-linecap="round"/>
<path d="M101 1386.6 C167.33 1386.53 233.67 1386.48 300 1386.4 C340 1386.35 380.01 1386.49 420 1386.2 C425.67 1386.16 431.38 1386 437 1385.4 C440.38 1385.04 443.71 1384.17 447 1383.3 C450.04 1382.5 453.05 1381.5 456 1380.4 C459.05 1379.27 462.08 1378.03 465 1376.6 C468.08 1375.09 471.09 1373.41 474 1371.6 C477.09 1369.68 480.11 1367.61 483 1365.4 C486.11 1363.01 489.12 1360.46 492 1357.8 C495.12 1354.93 498.09 1351.89 501 1348.8 C504.43 1345.16 507.77 1341.42 511 1337.6 C514.11 1333.92 517.12 1330.16 520 1326.3 C522.79 1322.56 525.46 1318.71 528 1314.8 C530.46 1311.01 532.8 1307.14 535 1303.2 C537.3 1299.08 539.46 1294.86 541.5 1290.6 C543.8 1285.8 545.86 1280.88 548 1276 C550.3 1270.75 552.63 1265.51 554.8 1260.2 C557.13 1254.51 559.24 1248.72 561.5 1243 C563.48 1237.99 565.4 1232.96 567.5 1228 C569.57 1223.12 571.7 1218.27 574 1213.5 C576.2 1208.94 578.67 1204.5 581 1200 C583.44 1195.27 585.72 1190.45 588.3 1185.8 C590.82 1181.25 593.65 1176.88 596.3 1172.4 C598.55 1168.61 600.84 1164.84 603 1161 C605.34 1156.84 607.61 1152.64 609.8 1148.4 C613.15 1141.91 616.06 1135.18 619.6 1128.8 C622.56 1123.45 625.91 1118.29 629.3 1113.2 C632.41 1108.53 635.99 1104.17 639.1 1099.5 C642.52 1094.37 645.47 1088.92 648.9 1083.8 C652.01 1079.16 655.48 1074.77 658.7 1070.2 C662.01 1065.5 664.86 1060.42 668.5 1056 C671.36 1052.52 674.84 1049.52 678.2 1046.5 C681.34 1043.69 684.68 1041.09 688 1038.5 C691.21 1035.99 694.49 1033.57 697.8 1031.2 C701.02 1028.9 704.23 1026.57 707.6 1024.5 C710.73 1022.57 713.96 1020.73 717.3 1019.2 C720.46 1017.76 723.77 1016.59 727.1 1015.6 C730.3 1014.65 733.63 1014.13 736.9 1013.4 C741.27 1012.43 745.7 1011.69 750 1010.5 C753.27 1009.59 756.43 1008.32 759.6 1007.1 C766.13 1004.59 772.46 1001.46 779.1 999.3 C785.49 997.22 792.08 995.55 798.7 994.4 C805.12 993.28 811.83 993.77 818.2 992.5 C824.86 991.17 831.19 988.26 837.8 986.6 C844.22 984.99 850.77 983.79 857.3 982.7 C864.5 981.49 871.77 980.7 879 979.7" fill="none" stroke-width="3.0" stroke-linejoin="round" stroke-linecap="round"/>
<path d="M101 1336.3 C134 1334.37 166.99 1332.3 200 1330.5 C229.99 1328.87 260.01 1327.71 290 1326 C306.68 1325.05 323.35 1323.83 340 1322.5 C356.68 1321.17 373.41 1320.07 390 1318 C400.08 1316.74 410.16 1314.96 420 1312.5 C430.16 1309.96 440.52 1307.27 450 1303 C457.19 1299.77 464.11 1295.21 470 1290 C475.78 1284.88 480.22 1278.17 485 1272 C488.22 1267.84 491.01 1263.34 494 1259 C496.45 1255.44 498.93 1251.91 501.3 1248.3 C503.23 1245.37 504.81 1242.2 506.9 1239.4 C509.27 1236.23 512.11 1233.41 514.7 1230.4 C516.94 1227.81 519.08 1225.12 521.4 1222.6 C523.54 1220.28 525.78 1218.04 528.1 1215.9 C530.62 1213.58 533.48 1211.62 535.9 1209.2 C537.95 1207.15 539.72 1204.8 541.5 1202.5 C543.46 1199.97 545.43 1197.43 547.1 1194.7 C549.53 1190.73 551.51 1186.47 553.8 1182.4 C556.34 1177.9 558.93 1173.42 561.6 1169 C564.33 1164.49 566.85 1159.8 570 1155.6 C573.05 1151.54 576.82 1148.01 580.2 1144.2 C583.35 1140.65 586.41 1137.01 589.6 1133.5 C592.68 1130.11 595.56 1126.48 599 1123.5 C602.29 1120.65 606.3 1118.63 609.8 1116 C613.17 1113.47 616.21 1110.5 619.6 1108 C622.71 1105.7 625.99 1103.6 629.3 1101.6 C632.49 1099.67 635.82 1097.97 639.1 1096.2 C642.35 1094.44 645.58 1092.63 648.9 1091 C652.11 1089.43 655.38 1087.92 658.7 1086.6 C661.91 1085.32 665.19 1084.18 668.5 1083.2 C671.69 1082.25 674.95 1081.53 678.2 1080.8 C681.45 1080.07 684.73 1079.47 688 1078.8 C691.27 1078.13 694.54 1077.51 697.8 1076.8 C701.08 1076.08 704.33 1075.27 707.6 1074.5 C710.83 1073.74 714.06 1072.95 717.3 1072.2 C720.56 1071.45 723.82 1070.67 727.1 1070 C730.35 1069.34 733.62 1068.69 736.9 1068.2 C741.25 1067.55 745.63 1067.1 750 1066.6 C753.2 1066.23 756.41 1066.01 759.6 1065.6 C766.11 1064.77 772.62 1063.94 779.1 1062.9 C785.66 1061.84 792.16 1060.45 798.7 1059.3 C805.19 1058.15 811.69 1057.03 818.2 1056 C824.72 1054.97 831.27 1054.07 837.8 1053.1 C844.3 1052.14 850.86 1051.48 857.3 1050.2 C864.6 1048.75 871.77 1046.67 879 1044.9" fill="none" stroke-width="3.0" stroke-linejoin="round" stroke-linecap="round"/>
<path d="M101 1338.8 C134 1336.87 166.99 1334.83 200 1333 C229.99 1331.33 260.01 1330.01 290 1328.3 C306.68 1327.35 323.35 1326.3 340 1325 C356.68 1323.7 373.38 1322.37 390 1320.5 C400.04 1319.37 410.16 1318.21 420 1316 C430.16 1313.71 440.5 1311.14 450 1307 C458.84 1303.14 467.39 1297.92 475 1292 C482.39 1286.26 488.81 1279.08 495 1272 C500.47 1265.74 505.34 1258.9 510 1252 C514.34 1245.56 518.03 1238.68 522 1232 C526.29 1224.78 529.92 1217.02 534.8 1210.3 C536.79 1207.56 540.17 1206.01 542.6 1203.6 C545.77 1200.44 548.52 1196.86 551.6 1193.6 C554.85 1190.16 558.11 1186.69 561.6 1183.5 C564.24 1181.09 567.13 1178.94 570 1176.8 C572.27 1175.11 574.6 1173.49 577 1172 C579.33 1170.56 581.82 1169.36 584.2 1168 C586.48 1166.7 588.68 1165.22 591 1164 C593.61 1162.62 596.34 1161.47 599 1160.2 C602.6 1158.47 606.12 1156.54 609.8 1155 C612.99 1153.67 616.31 1152.65 619.6 1151.6 C622.81 1150.58 626.07 1149.76 629.3 1148.8 C632.57 1147.83 635.8 1146.68 639.1 1145.8 C645.6 1144.08 652.12 1142.35 658.7 1141 C665.15 1139.68 671.69 1138.8 678.2 1137.8 C684.72 1136.8 691.29 1136.08 697.8 1135 C704.32 1133.92 710.76 1132.3 717.3 1131.3 C723.8 1130.3 730.36 1129.66 736.9 1129 C741.26 1128.56 745.63 1128.35 750 1128 C753.2 1127.75 756.41 1127.53 759.6 1127.2 C766.11 1126.53 772.63 1125.94 779.1 1125 C785.66 1124.04 792.13 1122.44 798.7 1121.5 C805.17 1120.57 811.71 1120.15 818.2 1119.4 C824.74 1118.65 831.27 1117.85 837.8 1117 C844.31 1116.15 850.87 1115.58 857.3 1114.3 C864.61 1112.85 871.77 1110.63 879 1108.8" fill="none" stroke-width="3.0" stroke-linejoin="round" stroke-linecap="round"/>
<path d="M101 1341.3 C134 1339.7 167 1338.12 200 1336.5 C230 1335.02 260.02 1333.86 290 1332 C306.79 1330.96 323.52 1329.05 340.3 1327.8 C357.06 1326.55 373.87 1326 390.6 1324.5 C401.8 1323.5 413.01 1322.1 424.1 1320.3 C429.47 1319.43 434.85 1318.22 440 1316.5 C446.15 1314.45 452.2 1311.9 458 1309 C463.53 1306.23 468.9 1303.01 474 1299.5 C479.57 1295.67 484.68 1291.18 490 1287 C493.75 1284.05 497.57 1281.19 501.2 1278.1 C505.01 1274.86 508.58 1271.35 512.3 1268 C516.02 1264.65 519.96 1261.52 523.5 1258 C526.69 1254.82 529.51 1251.28 532.5 1247.9 C535.11 1244.94 537.61 1241.88 540.3 1239 C542.81 1236.31 545.52 1233.82 548.1 1231.2 C551.09 1228.16 554.08 1225.11 557 1222 C560.31 1218.48 563.25 1214.56 566.8 1211.3 C570.08 1208.29 573.9 1205.85 577.5 1203.2 C580.6 1200.92 583.66 1198.57 586.9 1196.5 C589.93 1194.57 593.14 1192.92 596.3 1191.2 C600.78 1188.76 605.27 1186.33 609.8 1184 C613.03 1182.33 616.25 1180.61 619.6 1179.2 C622.75 1177.87 626.04 1176.84 629.3 1175.8 C632.54 1174.77 635.81 1173.83 639.1 1173 C645.61 1171.36 652.12 1169.71 658.7 1168.4 C665.16 1167.11 671.68 1166.1 678.2 1165.2 C684.71 1164.3 691.26 1163.69 697.8 1163 C704.29 1162.32 710.79 1161.65 717.3 1161.1 C723.83 1160.55 730.37 1160.16 736.9 1159.7 C741.27 1159.39 745.64 1159.15 750 1158.8 C753.2 1158.55 756.4 1158.19 759.6 1157.9 C766.1 1157.32 772.6 1156.78 779.1 1156.2 C785.63 1155.62 792.18 1155.08 798.7 1154.4 C805.21 1153.72 811.7 1152.83 818.2 1152.1 C824.73 1151.37 831.27 1150.72 837.8 1150 C844.3 1149.28 850.83 1148.74 857.3 1147.8 C864.56 1146.74 871.77 1145.27 879 1144" fill="none" stroke-width="3.0" stroke-linejoin="round" stroke-linecap="round"/>
<path d="M101 1344.6 C134 1343.73 167.01 1343.03 200 1342 C230.01 1341.06 260.02 1340.11 290 1338.7 C301.18 1338.17 312.33 1337.03 323.5 1336.2 C334.67 1335.37 345.85 1334.68 357 1333.7 C368.21 1332.71 379.47 1331.89 390.6 1330.3 C399.04 1329.09 407.37 1327.12 415.7 1325.3 C423.83 1323.52 432.08 1321.99 440 1319.5 C446.18 1317.56 452.16 1314.83 458 1312 C463.5 1309.33 468.86 1306.3 474 1303 C479.52 1299.46 484.77 1295.47 490 1291.5 C495.7 1287.17 501.2 1282.57 506.8 1278.1 C510.5 1275.14 514.15 1272.11 517.9 1269.2 C522.32 1265.77 526.8 1262.42 531.3 1259.1 C535.37 1256.09 539.72 1253.43 543.6 1250.2 C547.56 1246.9 550.87 1242.83 554.8 1239.5 C558.34 1236.5 562.09 1233.69 566 1231.2 C569.56 1228.93 573.43 1227.12 577.2 1225.2 C581.43 1223.05 585.68 1220.94 590 1219 C595.61 1216.48 601.26 1214.01 607 1211.8 C611.39 1210.11 615.91 1208.72 620.4 1207.3 C624.87 1205.89 629.39 1204.61 633.9 1203.3 C638.36 1202.01 642.82 1200.73 647.3 1199.5 C651.09 1198.46 654.85 1197.28 658.7 1196.5 C665.15 1195.18 671.69 1194.22 678.2 1193.2 C684.72 1192.18 691.26 1191.3 697.8 1190.4 C704.3 1189.5 710.78 1188.48 717.3 1187.8 C723.81 1187.12 730.36 1186.76 736.9 1186.3 C741.26 1185.99 745.64 1185.87 750 1185.5 C756.67 1184.94 763.33 1184.17 770 1183.5 C780.87 1182.41 791.72 1181.19 802.6 1180.2 C814.32 1179.13 826.1 1178.56 837.8 1177.3 C844.33 1176.6 850.86 1175.6 857.3 1174.3 C864.59 1172.83 871.77 1170.77 879 1169" fill="none" stroke-width="3.0" stroke-linejoin="round" stroke-linecap="round"/>
<line x1="257.3" y1="1449.2" x2="436" y2="1302" stroke-width="2.0" stroke-linecap="round" />
<line x1="266.8" y1="1443.6" x2="460" y2="1314" stroke-width="2.0" stroke-linecap="round" />
<line x1="323.5" y1="1440" x2="470" y2="1305" stroke-width="2.0" stroke-linecap="round" />
<line x1="397.9" y1="1451.5" x2="472" y2="1311" stroke-width="2.0" stroke-linecap="round" />
<line x1="412.4" y1="1454.8" x2="510.2" y2="1224.9" stroke-width="2.0" stroke-linecap="round" />
<line x1="413.5" y1="1452.6" x2="554.7" y2="1142.9" stroke-width="2.0" stroke-linecap="round" />
<line x1="464.3" y1="1440.3" x2="601.7" y2="1172.4" stroke-width="2.0" stroke-linecap="round" />
<line x1="490.4" y1="960.5" x2="670.3" y2="960.5" stroke-width="1.8" stroke-linecap="round" />
<line x1="467.2" y1="1001" x2="645" y2="1001" stroke-width="1.8" stroke-linecap="round" />
<line x1="472.5" y1="1050.6" x2="673.5" y2="1050.6" stroke-width="1.8" stroke-linecap="round" />
<line x1="442" y1="1104.4" x2="618.8" y2="1104.4" stroke-width="1.8" stroke-linecap="round" />
<line x1="407.2" y1="1169.8" x2="583.5" y2="1169.8" stroke-width="1.8" stroke-linecap="round" />
<line x1="343.4" y1="1211.8" x2="599" y2="1211.8" stroke-width="1.8" stroke-linecap="round" />
<line x1="305.3" y1="1249.8" x2="528.5" y2="1249.8" stroke-width="1.8" stroke-linecap="round" />
<text transform="translate(411.95 971.5) scale(0.9228 1)" font-size="34.16" style="stroke-width:0.27px">ZBT</text>
<path d="M481.2 963 L483.1 963 L483.1 983 L481.2 983 L481.2 968.8 C479.82 968.1 478.27 968.1 476.2 968 L476.2 966.5 C479.65 966.3 480.51 964.8 481.06 963 Z" fill="#000" stroke="none"/>
<text transform="translate(387.36 1013.8) scale(0.9158 1)" font-size="34.30" style="stroke-width:0.27px">ZBT</text>
<text transform="translate(448.37 1024.83) scale(1.0542 1)" font-size="26.76" style="stroke-width:0.21px">3</text>
<text transform="translate(264.15 1064.8) scale(0.9264 1)" font-size="35.32" style="stroke-width:0.28px">Undoped TiO</text>
<text transform="translate(456.99 1075.6) scale(0.9996 1)" font-size="28.14" style="stroke-width:0.23px">2</text>
<text transform="translate(359.85 1114.3) scale(0.9221 1)" font-size="34.30" style="stroke-width:0.27px">ZBT</text>
<text transform="translate(421.97 1124.8) scale(0.9486 1)" font-size="27.97" style="stroke-width:0.22px">4</text>
<text transform="translate(323.65 1179.2) scale(0.9545 1)" font-size="33.14" style="stroke-width:0.27px">ZBT</text>
<text transform="translate(384.26 1189.74) scale(1.1180 1)" font-size="25.77" style="stroke-width:0.21px">6</text>
<text transform="translate(260.65 1222.1) scale(0.9926 1)" font-size="31.98" style="stroke-width:0.26px">ZBT</text>
<text transform="translate(322.06 1233.14) scale(1.1053 1)" font-size="25.71" style="stroke-width:0.21px">5</text>
<text transform="translate(227.05 1264.5) scale(0.9030 1)" font-size="35.03" style="stroke-width:0.28px">ZBT</text>
<text transform="translate(287.73 1274.4) scale(1.0966 1)" font-size="26.86" style="stroke-width:0.21px">2</text>
<text transform="translate(127.33 902.4) scale(0.9995 1)" font-size="46.20" style="stroke-width:0.37px">(b)</text>
<path d="M1.1 1078.43 L1.1 1077 L15.4 1077 L15.4 1078.43 L5.25 1078.43 C4.75 1079.57 4.75 1080.99 4.68 1082.7 L3.6 1082.7 C3.46 1079.85 2.39 1079 1.1 1078.54 Z" fill="#000" stroke="none"/>
<text transform="translate(15.4 1073.5) rotate(-90) scale(1.0566 1)" font-size="20.86" style="stroke:none">/2</text>
</svg>
</body></html>
